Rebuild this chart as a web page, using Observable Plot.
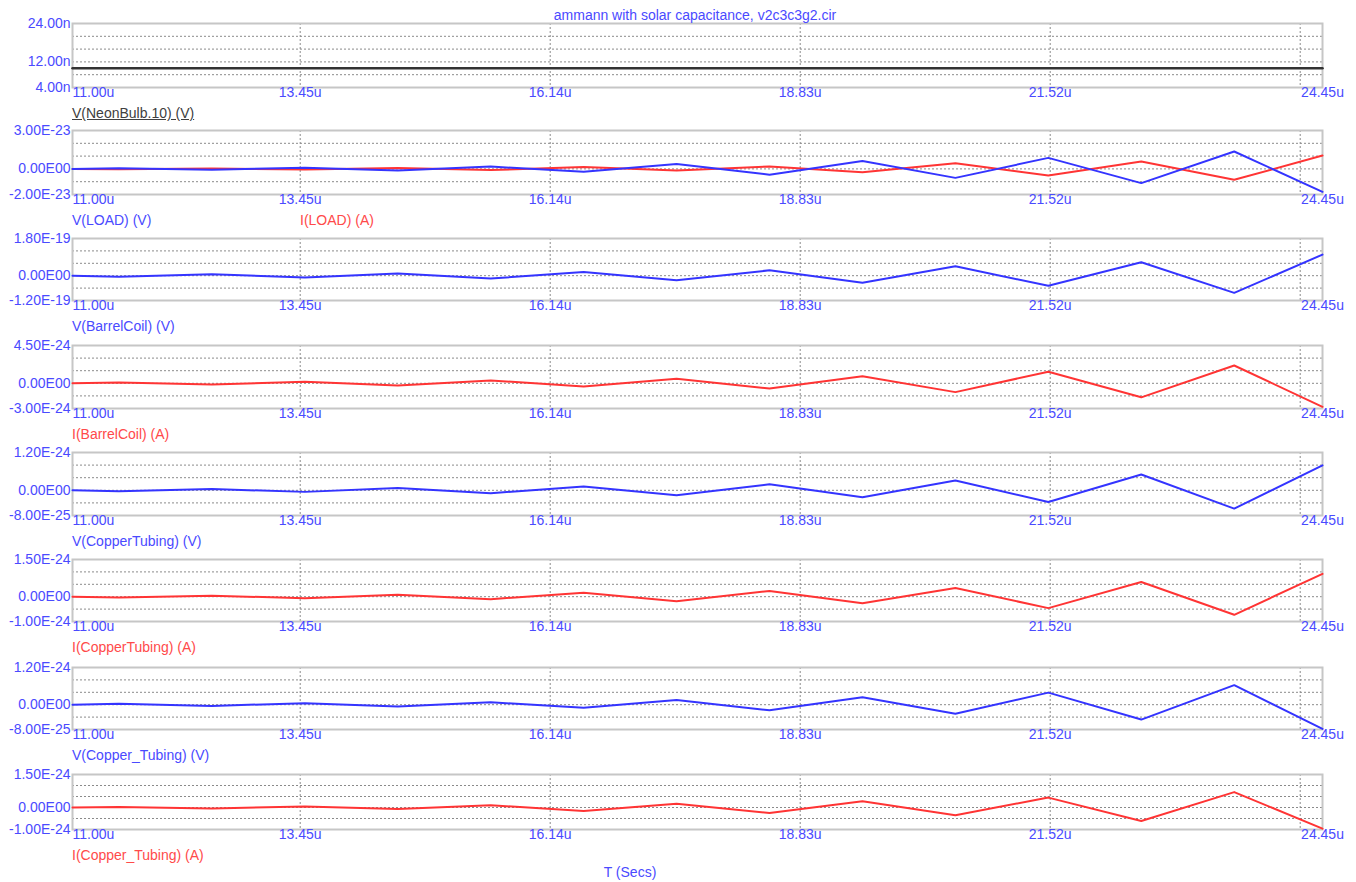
<!DOCTYPE html>
<html><head><meta charset="utf-8">
<script src="https://cdn.jsdelivr.net/npm/d3@7"></script>
<script src="https://cdn.jsdelivr.net/npm/@observablehq/plot@0.6"></script>
<style>
html,body{margin:0;padding:0;background:#fff;overflow:hidden;}
#wrap{position:relative;width:1356px;height:882px;font-family:"Liberation Sans",Arial,sans-serif;font-size:14px;overflow:hidden;}
.lbl{position:absolute;white-space:nowrap;line-height:1;transform:translateY(-50%);}
.pnl{position:absolute;left:0;}
</style></head><body><div id="wrap"></div>
<script>
// ---- data (time in microseconds) ----
const timeUs = [11.00, 11.50, 12.50, 13.50, 14.50, 15.50, 16.50, 17.50, 18.50, 19.50, 20.50, 21.50, 22.50, 23.50, 24.45];
const neonTime = [11.00, 24.45];
const neonV = [10e-9, 10e-9];
// V(LOAD), I(LOAD) in units of 1e-23
const vLoad = [0, 0.05, -0.07, 0.09, -0.12, 0.18, -0.23, 0.39, -0.45, 0.61, -0.70, 0.86, -1.11, 1.36, -1.79].map(v => v * 1e-23);
const iLoad = [0, -0.03, 0.04, -0.05, 0.07, -0.09, 0.14, -0.13, 0.19, -0.27, 0.45, -0.52, 0.58, -0.85, 1.04].map(v => v * 1e-23);
// V(BarrelCoil) in units of 1e-19
const vBarrelCoil = [0, -0.05, 0.07, -0.09, 0.11, -0.14, 0.18, -0.22, 0.26, -0.34, 0.46, -0.49, 0.65, -0.83, 1.02].map(v => v * 1e-19);
// I(BarrelCoil) and the rest in units of 1e-24
const iBarrelCoil = [0, 0.10, -0.14, 0.19, -0.25, 0.34, -0.39, 0.54, -0.63, 0.83, -1.05, 1.38, -1.67, 2.12, -2.80].map(v => v * 1e-24);
const vCopperTubing = [0, -0.03, 0.04, -0.05, 0.07, -0.09, 0.12, -0.16, 0.19, -0.22, 0.31, -0.37, 0.50, -0.58, 0.79].map(v => v * 1e-24);
const iCopperTubing = [0, -0.03, 0.04, -0.06, 0.08, -0.10, 0.16, -0.18, 0.23, -0.26, 0.35, -0.46, 0.59, -0.73, 0.92].map(v => v * 1e-24);
const vCopper_Tubing = [0, 0.03, -0.04, 0.05, -0.06, 0.08, -0.10, 0.15, -0.18, 0.24, -0.29, 0.39, -0.48, 0.63, -0.78].map(v => v * 1e-24);
const iCopper_Tubing = [0, 0.02, -0.04, 0.05, -0.07, 0.10, -0.16, 0.17, -0.25, 0.28, -0.35, 0.45, -0.61, 0.70, -0.96].map(v => v * 1e-24);

// ---- axis ticks ----
const xTickValues = [11.00, 13.45, 16.14, 18.83, 21.52, 24.45];
const xGridValues = [13.45, 16.14, 18.83, 21.52, 24.21];

const title = "ammann with solar capacitance, v2c3c3g2.cir";
const xTitle = "T (Secs)";

// ---- styles ----
const BLUE = "#3434ff", RED = "#ff3434", DARK = "#333333";
const TXT_BLUE = "#4a4aff", TXT_RED = "#ff4a4a", TXT_DARK = "#404040";

const panels = [
  {top: 23, h: 64, domain: [4e-9, 24e-9], grid: [8e-9, 12e-9, 16e-9, 20e-9],
   yt: [24e-9, 12e-9, 4e-9], yl: ["24.00n", "12.00n", "4.00n"],
   series: [[neonTime, neonV, DARK, 2.5]],
   labels: [["V(NeonBulb.10) (V)", 72, TXT_DARK, true]]},
  {top: 130, h: 64, domain: [-2e-23, 3e-23], grid: [-1e-23, 0, 1e-23, 2e-23],
   yt: [3e-23, 0, -2e-23], yl: ["3.00E-23", "0.00E00", "-2.00E-23"],
   series: [[timeUs, iLoad, RED, 2], [timeUs, vLoad, BLUE, 2]],
   labels: [["V(LOAD) (V)", 72, TXT_BLUE], ["I(LOAD) (A)", 300, TXT_RED]]},
  {top: 238, h: 62, domain: [-1.2e-19, 1.8e-19], grid: [-0.6e-19, 0, 0.6e-19, 1.2e-19],
   yt: [1.8e-19, 0, -1.2e-19], yl: ["1.80E-19", "0.00E00", "-1.20E-19"],
   series: [[timeUs, vBarrelCoil, BLUE, 2]],
   labels: [["V(BarrelCoil) (V)", 72, TXT_BLUE]]},
  {top: 345, h: 63, domain: [-3e-24, 4.5e-24], grid: [-1.5e-24, 0, 1.5e-24, 3e-24],
   yt: [4.5e-24, 0, -3e-24], yl: ["4.50E-24", "0.00E00", "-3.00E-24"],
   series: [[timeUs, iBarrelCoil, RED, 2]],
   labels: [["I(BarrelCoil) (A)", 72, TXT_RED]]},
  {top: 452, h: 63, domain: [-8e-25, 1.2e-24], grid: [-4e-25, 0, 4e-25, 8e-25],
   yt: [1.2e-24, 0, -8e-25], yl: ["1.20E-24", "0.00E00", "-8.00E-25"],
   series: [[timeUs, vCopperTubing, BLUE, 2]],
   labels: [["V(CopperTubing) (V)", 72, TXT_BLUE]]},
  {top: 559, h: 62, domain: [-1e-24, 1.5e-24], grid: [-5e-25, 0, 5e-25, 1e-24],
   yt: [1.5e-24, 0, -1e-24], yl: ["1.50E-24", "0.00E00", "-1.00E-24"],
   series: [[timeUs, iCopperTubing, RED, 2]],
   labels: [["I(CopperTubing) (A)", 72, TXT_RED]]},
  {top: 667, h: 62, domain: [-8e-25, 1.2e-24], grid: [-4e-25, 0, 4e-25, 8e-25],
   yt: [1.2e-24, 0, -8e-25], yl: ["1.20E-24", "0.00E00", "-8.00E-25"],
   series: [[timeUs, vCopper_Tubing, BLUE, 2]],
   labels: [["V(Copper_Tubing) (V)", 72, TXT_BLUE]]},
  {top: 774, h: 55, domain: [-1e-24, 1.5e-24], grid: [-5e-25, 0, 5e-25, 1e-24],
   yt: [1.5e-24, 0, -1e-24], yl: ["1.50E-24", "0.00E00", "-1.00E-24"],
   series: [[timeUs, iCopper_Tubing, RED, 2]],
   labels: [["I(Copper_Tubing) (A)", 72, TXT_RED]]}
];

const wrap = document.getElementById("wrap");
const FONT = '"Liberation Sans", Arial, sans-serif';
const MT = 10, MB = 36, ML = 72, MR = 34;

function addLabel(text, x, y, color, opts = {}) {
  const d = document.createElement("div");
  d.className = "lbl";
  d.textContent = text;
  d.style.left = x + "px";
  d.style.top = y + "px";
  d.style.color = color;
  if (opts.underline) d.style.textDecoration = "underline";
  if (opts.center) d.style.transform = "translate(-50%,-50%)";
  wrap.appendChild(d);
}

panels.forEach(p => {
  const marks = [
    Plot.gridY(p.grid, {stroke: "#8a8a8a", strokeOpacity: 1, strokeDasharray: "2,2", strokeWidth: 1}),
    Plot.gridX(xGridValues, {stroke: "#8a8a8a", strokeOpacity: 1, strokeDasharray: "2,2", strokeWidth: 1}),
    Plot.frame({stroke: "#c6c6c6", strokeWidth: 2})
  ];
  p.series.forEach(([ts, vs, color, w]) => {
    const rows = ts.map((t, i) => ({t, v: vs[i]}));
    marks.push(Plot.line(rows, {x: "t", y: "v", stroke: color, strokeWidth: w}));
  });
  marks.push(Plot.text(p.yt, {y: d => d, text: (d, i) => p.yl[i], frameAnchor: "left", textAnchor: "end", dx: -2, fill: TXT_BLUE}));
  marks.push(Plot.text(xTickValues.slice(0, 1), {x: d => d, text: d => d.toFixed(2) + "u", frameAnchor: "bottom", textAnchor: "start", dy: 9, fill: TXT_BLUE}));
  marks.push(Plot.text(xTickValues.slice(1), {x: d => d, text: d => d.toFixed(2) + "u", frameAnchor: "bottom", textAnchor: "middle", dy: 9, fill: TXT_BLUE}));

  const svg = Plot.plot({
    width: 1356, height: p.h + MT + MB,
    marginLeft: ML, marginRight: MR, marginTop: MT, marginBottom: MB,
    x: {domain: [11.00, 24.45], axis: null},
    y: {domain: p.domain, axis: null},
    style: {background: "transparent", overflow: "visible", fontSize: "14px", fontFamily: FONT},
    marks
  });
  const holder = document.createElement("div");
  holder.className = "pnl";
  holder.style.top = (p.top - MT) + "px";
  holder.appendChild(svg);
  wrap.appendChild(holder);

  p.labels.forEach(([text, x, color, underline]) => addLabel(text, x, p.top + p.h + 26, color, {underline}));
});

addLabel(title, 695, 15, TXT_BLUE, {center: true});
addLabel(xTitle, 630, 872, TXT_BLUE, {center: true});
</script></body></html>
